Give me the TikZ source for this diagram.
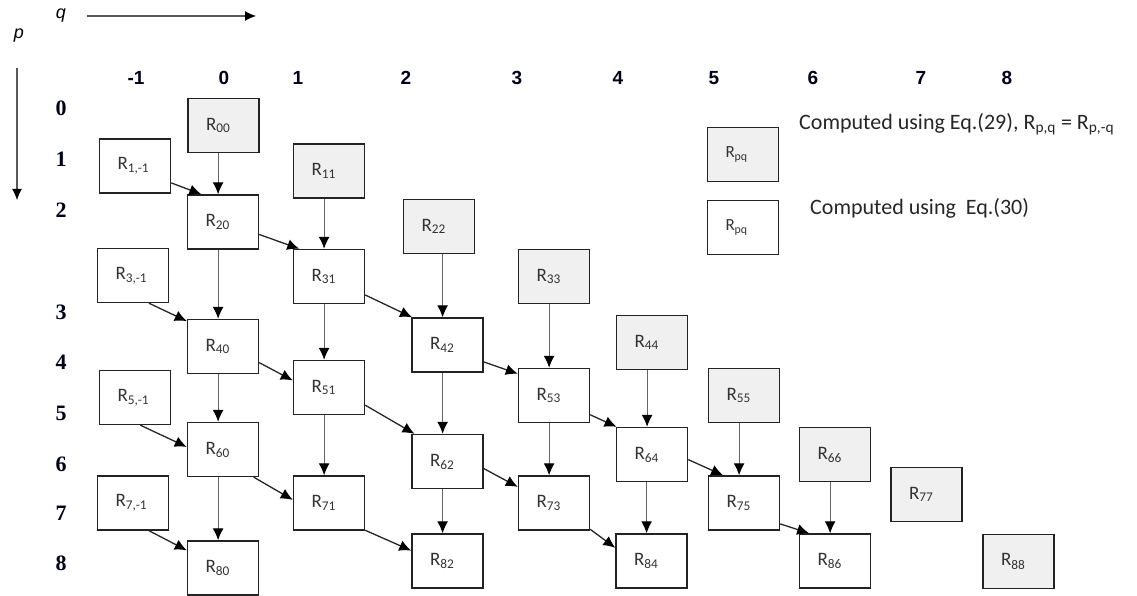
\documentclass[tikz,border=0pt]{standalone}
\usepackage{fontspec}
\setmainfont{Carlito}
\newfontfamily\headfont{Liberation Sans}
\newfontfamily\rowfont{Liberation Serif}
\usetikzlibrary{arrows.meta}
\definecolor{boxgray}{RGB}{240,240,240}
\definecolor{edgegray}{RGB}{35,35,35}
\tikzset{cell/.style={rectangle, draw=edgegray, line width=1.4pt, minimum width=71pt, minimum height=54pt, inner sep=0pt, text width=35pt, align=left, text=black!80, font=\fontsize{19}{22}\selectfont}}
\tikzset{given/.style={cell, fill=boxgray}}
\tikzset{vline/.style={line width=1.2pt, draw=black!60, -{Latex[length=12pt,width=11pt,color=black]}}}
\tikzset{dline/.style={line width=1.3pt, draw=black!85, -{Latex[length=12pt,width=11pt,color=black]}}}
\tikzset{axis/.style={line width=1.2pt, draw=black!65, -{Latex[length=11pt,width=10pt,color=black]}}}
\tikzset{colnum/.style={font=\headfont\bfseries\fontsize{19}{21}\selectfont, text=black!90!blue}}
\tikzset{rownum/.style={font=\rowfont\bfseries\fontsize{22}{24}\selectfont, text=black!90!blue}}

\begin{document}
\begin{tikzpicture}[x=1pt,y=-1pt]
  \useasboundingbox (0,0) rectangle (1137,596);
  % axes
  \node[font=\headfont\itshape\fontsize{18}{20}\selectfont] (q) at (61,16) {q};
  \node[font=\headfont\itshape\fontsize{18}{20}\selectfont] (p) at (19,36) {p};
  \coordinate (qs) at (87,16);
  \coordinate (qe) at (256,16);
  \coordinate (ps) at (17,68);
  \coordinate (pe) at (17,200);
  \draw[axis] (qs) -- (qe);
  \draw[axis] (ps) -- (pe);
  % column and row numbers
  \foreach \x/\lab [count=\i] in {136/-1, 224/0, 298/1, 406/2, 517/3, 618/4, 714/5, 813/6, 921/7, 1007/8} {
    \node[colnum] (col\i) at (\x, 78) {\lab};
  }
  \foreach \y/\lab in {108/0, 159/1, 210/2, 312/3, 362/4, 413/5, 464/6, 513/7, 563/8} {
    \node[rownum] (row\lab) at (61, \y) {\lab};
  }
  % boxes from Eq.(29)
  \foreach \x/\y/\lab/\sub in {
    223.5/125.5/R00/00,
    329/171/R11/11,
    439/226.5/R22/22,
    554/276.5/R33/33,
    652/342.5/R44/44,
    744/395.5/R55/55,
    835/454.5/R66/66,
    926.5/494.5/R77/77,
    1018.5/561.5/R88/88%
  } {
    \node[given] (\lab) at (\x, \y) {R\textsubscript{\sub}};
  }
  % boxes from Eq.(30)
  \foreach \x/\y/\lab/\sub in {
    135/166/R1m1/{1,-1},
    223/222/R20/20,
    133/275.5/R3m1/{3,-1},
    329/276.5/R31/31,
    223/346.5/R40/40,
    447.5/345/R42/42,
    329/387.5/R51/51,
    554/395.5/R53/53,
    135/397.5/R5m1/{5,-1},
    223/449.5/R60/60,
    447.5/461.5/R62/62,
    652/454.5/R64/64,
    329/503/R71/71,
    133/503/R7m1/{7,-1},
    554/503/R73/73,
    744/503/R75/75,
    223/568/R80/80,
    447.5/561/R82/82,
    651.5/561/R84/84,
    835/561/R86/86%
  } {
    \node[cell] (\lab) at (\x, \y) {R\textsubscript{\sub}};
  }
  % straight down
  \foreach \u/\v in {
    R00/R20, R11/R31, R20/R40, R22/R42, R31/R51, R33/R53, R40/R60, R42/R62,
    R44/R64, R51/R71, R53/R73, R55/R75, R60/R80, R62/R82, R64/R84, R66/R86%
  } {
    \draw[vline] (\v.100 |- \u.south) -- (\v.100);
  }
  % slanted
  \foreach \u/\a/\v/\b in {
    R1m1/-25/R20/128,
    R20/-19/R31/137,
    R3m1/-60/R40/145,
    R40/-24/R51/169,
    R5m1/-79/R60/176,
    R31/-27/R42/142,
    R51/-26/R62/140,
    R60/-42/R71/175,
    R7m1/-60/R80/154,
    R71/-37/R82/164,
    R42/-25/R53/149,
    R53/-28/R64/142,
    R62/-11/R73/156,
    R64/-8/R75/127,
    R73/-36/R84/160,
    R75/-30/R86/133%
  } {
    \draw[dline] (\u.\a) -- (\v.\b);
  }
  % legend
  \node[given, font=\fontsize{17}{20}\selectfont] (keyA) at (743,154.5) {R\textsubscript{pq}};
  \node[cell, font=\fontsize{17}{20}\selectfont] (keyB) at (743,227.5) {R\textsubscript{pq}};
  \node[anchor=west, inner sep=0pt, font=\fontsize{22}{26}\selectfont, text=black!85] (txtA) at (799,124)
    {Computed using Eq.(29), R\textsubscript{p,q} = R\textsubscript{p,-q}};
  \node[anchor=west, inner sep=0pt, font=\fontsize{22}{26}\selectfont, text=black!85] (txtB) at (810,208)
    {Computed using\ \ Eq.(30)};
\end{tikzpicture}
\end{document}
